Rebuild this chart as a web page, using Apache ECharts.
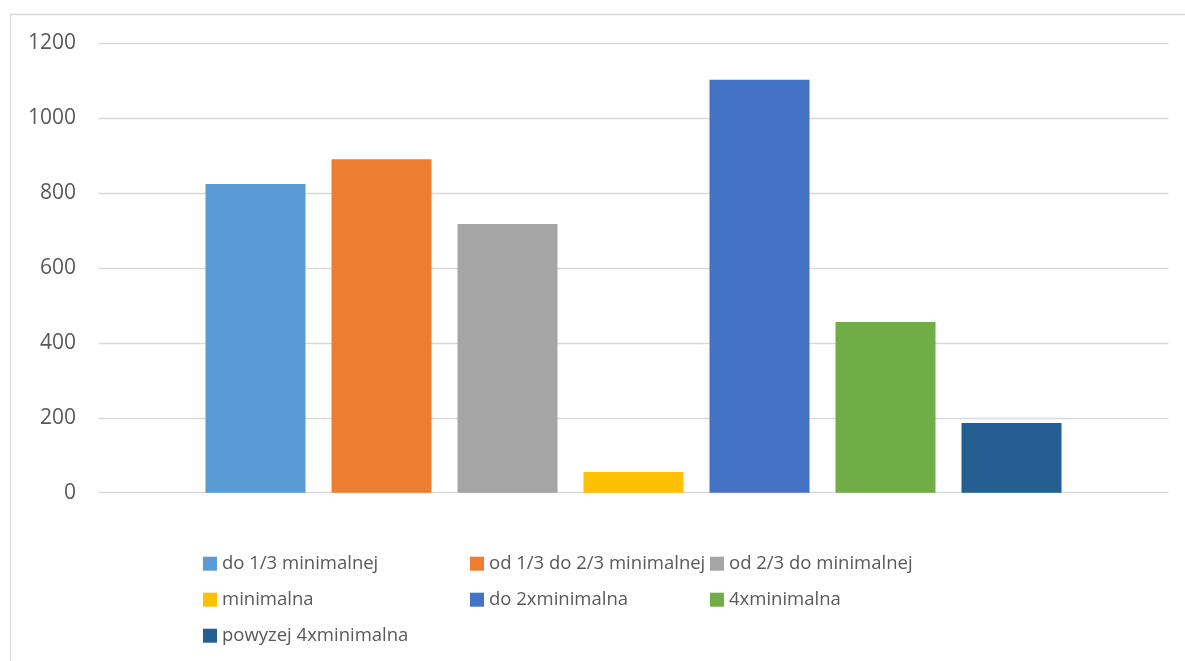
<!DOCTYPE html>
<html>
<head>
<meta charset="utf-8">
<title>Wynagrodzenia</title>
<script src="https://cdn.jsdelivr.net/npm/echarts@6/dist/echarts.min.js"></script>
<style>
    html, body { margin: 0; padding: 0; background: #fff; }
    #chart { width: 1185px; height: 661px; }
</style>
</head>
<body>
<div id="chart"></div>
<script>
// przedzialy wynagrodzen
const seriesNames = [
    'do 1/3 minimalnej',
    'od 1/3 do 2/3 minimalnej',
    'od 2/3 do minimalnej',
    'minimalna',
    'do 2xminimalna',
    '4xminimalna',
    'powyzej 4xminimalna'
];
const seriesValues = [825, 891, 718, 55, 1103, 456, 186];
const yTicks = [0, 200, 400, 600, 800, 1000, 1200];
const colors = ['#5B9BD5', '#ED7D31', '#A5A5A5', '#FFC000', '#4472C4', '#70AD47', '#255E91'];

const chartDom = document.getElementById('chart');
const mychart = echarts.init(chartDom, null, { renderer: 'canvas' });

const font = "'Open Sans', 'Noto Sans', sans-serif";
const textColor = '#595959';

// legenda w trzech kolumnach jak w Excelu
const legendCols = [
    { left: 203, names: [seriesNames[0], seriesNames[3], seriesNames[6]] },
    { left: 470, names: [seriesNames[1], seriesNames[4]] },
    { left: 710, names: [seriesNames[2], seriesNames[5]] }
];

const option = {
    animation: false,
    color: colors,
    textStyle: { fontFamily: font, color: textColor },
    graphic: [{
        type: 'rect',
        shape: { x: 10.5, y: 14.5, width: 1300, height: 800 },
        style: { fill: 'none', stroke: '#d9d9d9', lineWidth: 1.3 },
        silent: true
    }],
    grid: {
        left: 98.5,
        right: 16.5,
        top: 43.5,
        bottom: 168.3
    },
    legend: legendCols.map(function (c) {
        return {
            orient: 'vertical',
            left: c.left,
            top: 553.7,
            padding: 0,
            itemWidth: 14,
            itemHeight: 14,
            itemGap: 16,
            icon: 'rect',
            data: c.names,
            textStyle: {
                fontFamily: font,
                fontSize: 18.5,
                lineHeight: 20,
                color: textColor
            }
        };
    }),
    xAxis: {
        type: 'category',
        data: [''],
        axisLine: { show: false },
        axisTick: { show: false },
        axisLabel: { show: false }
    },
    yAxis: {
        type: 'value',
        min: yTicks[0],
        max: yTicks[yTicks.length - 1],
        interval: yTicks[1] - yTicks[0],
        axisLine: { show: false },
        axisTick: { show: false },
        axisLabel: {
            margin: 22.5,
            fontFamily: font,
            fontSize: 21,
            color: textColor,
            formatter: function (v) { return String(v); }
        },
        splitLine: { lineStyle: { color: '#d9d9d9', width: 1.3 } }
    },
    series: seriesNames.map(function (name, i) {
        return {
            name: name,
            type: 'bar',
            barWidth: 100,
            barGap: '26%',
            data: [seriesValues[i]]
        };
    })
};

mychart.setOption(option);
</script>
</body>
</html>
